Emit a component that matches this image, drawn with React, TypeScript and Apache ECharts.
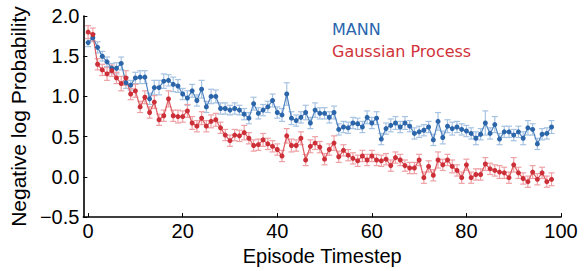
import React, { useEffect, useRef } from "react";
import * as echarts from "echarts";

const mannValues = [
  1.67, 1.73, 1.61, 1.5, 1.43, 1.35, 1.35, 1.41, 1.17, 1.14,
  1.23, 1.24, 1.24, 0.97, 1.11, 1.11, 1.19, 1.2, 1.15, 1.13,
  1.03, 0.98, 1.07, 0.95, 1.09, 0.87, 1.0, 1.0, 0.85, 0.85,
  0.83, 0.85, 0.83, 0.78, 0.73, 0.91, 0.79, 0.83, 0.87, 0.95,
  0.8, 0.77, 1.03, 0.73, 0.7, 0.74, 0.8, 0.67, 0.83, 0.79,
  0.79, 0.74, 0.8, 0.59, 0.62, 0.61, 0.67, 0.66, 0.62, 0.74,
  0.67, 0.73, 0.47, 0.6, 0.64, 0.67, 0.62, 0.67, 0.63, 0.54,
  0.56, 0.58, 0.62, 0.46, 0.69, 0.49, 0.63, 0.6, 0.62, 0.59,
  0.57, 0.54, 0.48, 0.53, 0.67, 0.54, 0.65, 0.47, 0.56, 0.56,
  0.52, 0.56, 0.48, 0.61, 0.59, 0.41, 0.53, 0.54, 0.62,
];

const mannErrors = [
  0.05, 0.05, 0.07, 0.06, 0.06, 0.06, 0.07, 0.08, 0.07, 0.06,
  0.07, 0.08, 0.08, 0.07, 0.09, 0.09, 0.09, 0.07, 0.09, 0.08,
  0.07, 0.09, 0.08, 0.07, 0.11, 0.07, 0.09, 0.08, 0.07, 0.07,
  0.06, 0.07, 0.06, 0.07, 0.07, 0.08, 0.07, 0.07, 0.07, 0.08,
  0.07, 0.08, 0.14, 0.08, 0.07, 0.07, 0.09, 0.07, 0.09, 0.07,
  0.07, 0.07, 0.08, 0.07, 0.07, 0.07, 0.07, 0.07, 0.07, 0.08,
  0.07, 0.08, 0.07, 0.07, 0.08, 0.08, 0.07, 0.08, 0.07, 0.07,
  0.07, 0.07, 0.07, 0.07, 0.11, 0.08, 0.08, 0.08, 0.07, 0.07,
  0.07, 0.07, 0.08, 0.07, 0.15, 0.07, 0.1, 0.07, 0.07, 0.07,
  0.07, 0.07, 0.08, 0.09, 0.07, 0.07, 0.07, 0.07, 0.08,
];

const gpValues = [
  1.8, 1.77, 1.4, 1.33, 1.28, 1.32, 1.23, 1.16, 1.23, 1.03,
  1.07, 0.87, 0.99, 0.8, 0.93, 0.71, 0.76, 0.97, 0.76, 0.75,
  0.75, 0.82, 0.67, 0.63, 0.73, 0.63, 0.69, 0.71, 0.61, 0.52,
  0.45, 0.52, 0.51, 0.55, 0.48, 0.39, 0.4, 0.46, 0.41, 0.38,
  0.34, 0.26, 0.51, 0.39, 0.39, 0.48, 0.21, 0.38, 0.42, 0.37,
  0.22, 0.34, 0.42, 0.25, 0.33, 0.27, 0.23, 0.2, 0.26, 0.21,
  0.26, 0.21, 0.2, 0.22, 0.14, 0.24, 0.21, 0.14, 0.11, 0.11,
  0.21, -0.01, 0.13, 0.02, 0.21, 0.15, 0.21, 0.13, 0.08, -0.01,
  0.15, -0.01, 0.03, 0.03, 0.16, 0.1, 0.08, 0.06, 0.05, -0.01,
  0.15, 0.05, -0.02, -0.06, 0.06, -0.03, 0.05, -0.06, -0.03,
];

const gpErrors = [
  0.08, 0.08, 0.07, 0.07, 0.08, 0.07, 0.07, 0.09, 0.09, 0.07,
  0.08, 0.07, 0.08, 0.07, 0.08, 0.07, 0.07, 0.1, 0.07, 0.08,
  0.07, 0.08, 0.08, 0.07, 0.08, 0.07, 0.08, 0.08, 0.07, 0.07,
  0.07, 0.07, 0.07, 0.09, 0.07, 0.07, 0.07, 0.08, 0.07, 0.07,
  0.07, 0.07, 0.09, 0.08, 0.07, 0.08, 0.07, 0.08, 0.08, 0.07,
  0.07, 0.07, 0.09, 0.07, 0.07, 0.07, 0.07, 0.07, 0.07, 0.07,
  0.07, 0.07, 0.07, 0.07, 0.07, 0.07, 0.07, 0.07, 0.07, 0.07,
  0.07, 0.07, 0.07, 0.07, 0.1, 0.07, 0.07, 0.08, 0.07, 0.07,
  0.07, 0.07, 0.07, 0.07, 0.08, 0.07, 0.07, 0.08, 0.07, 0.07,
  0.09, 0.07, 0.07, 0.07, 0.08, 0.07, 0.07, 0.07, 0.08,
];

const xTickLabels = [0, 20, 40, 60, 80, 100];
const seriesNames = ["MANN", "Gaussian Process"];

const BLUE_MARK = "#2c66aa";
const BLUE_LINE = "#4f84c0";
const BLUE_ERR = "#a7c3e2";
const RED_MARK = "#cc2f37";
const RED_LINE = "#dc5a60";
const RED_ERR = "#eea1a5";

const AXIS_FONT = "'Liberation Sans', Arial, sans-serif";

function errorBarRenderer(color: string) {
  return (_params: any, api: any) => {
    const x = api.value(0);
    const lo = api.coord([x, api.value(1)]);
    const hi = api.coord([x, api.value(2)]);
    const w = 3;
    const style = { stroke: color, lineWidth: 1.2 };
    return {
      type: "group",
      children: [
        { type: "line", shape: { x1: lo[0], y1: lo[1], x2: hi[0], y2: hi[1] }, style },
        { type: "line", shape: { x1: lo[0] - w, y1: lo[1], x2: lo[0] + w, y2: lo[1] }, style },
        { type: "line", shape: { x1: hi[0] - w, y1: hi[1], x2: hi[0] + w, y2: hi[1] }, style },
      ],
    };
  };
}

export default function App() {
  const ref = useRef<HTMLDivElement>(null);

  useEffect(() => {
    if (!ref.current) return;
    const chart = echarts.init(ref.current, null, { renderer: "svg" });
    const episodes = mannValues.map((_, i) => i);
    const mannLine = episodes.map((e, i) => [e, mannValues[i]]);
    const gpLine = episodes.map((e, i) => [e, gpValues[i]]);
    const mannErr = episodes.map((e, i) => [e, mannValues[i] - mannErrors[i], mannValues[i] + mannErrors[i]]);
    const gpErr = episodes.map((e, i) => [e, gpValues[i] - gpErrors[i], gpValues[i] + gpErrors[i]]);

    chart.setOption({
      animation: false,
      backgroundColor: "#ffffff",
      grid: { left: 79, right: 23, top: 16, bottom: 47, containLabel: false },
      legend: {
        data: [
          { name: seriesNames[0], textStyle: { color: "#2a66ae" } },
          { name: seriesNames[1], textStyle: { color: "#d2323a" } },
        ],
        orient: "vertical",
        left: 322,
        top: 16,
        icon: "none",
        itemWidth: 0,
        itemHeight: 16,
        itemGap: 6.5,
        selectedMode: false,
        textStyle: { fontFamily: "'DejaVu Sans', sans-serif", fontSize: 16 },
      },
      xAxis: {
        type: "value",
        min: -1,
        max: 100,
        name: "Episode Timestep",
        nameLocation: "middle",
        nameGap: 25,
        nameTextStyle: { fontFamily: AXIS_FONT, fontSize: 20, color: "#000" },
        axisLine: { show: true, onZero: false, lineStyle: { color: "#000", width: 1.6 } },
        axisTick: { show: true, inside: true, length: 4, customValues: xTickLabels, lineStyle: { color: "#000" } },
        axisLabel: {
          customValues: xTickLabels,
          margin: 4,
          fontFamily: AXIS_FONT,
          fontSize: 20,
          color: "#000",
        },
        splitLine: { show: false },
      },
      yAxis: {
        type: "value",
        min: -0.5,
        max: 2.0,
        interval: 0.5,
        name: "Negative log Probability",
        nameLocation: "middle",
        nameGap: 45,
        nameTextStyle: { fontFamily: AXIS_FONT, fontSize: 21, color: "#000" },
        axisLine: { show: true, onZero: false, lineStyle: { color: "#000", width: 1.6 } },
        axisTick: { show: true, inside: true, length: 4, lineStyle: { color: "#000" } },
        axisLabel: {
          margin: 4,
          fontFamily: AXIS_FONT,
          fontSize: 20,
          color: "#000",
          formatter: (v: number) => (v < 0 ? "\u2212" : "") + Math.abs(v).toFixed(1),
        },
        splitLine: { show: false },
      },
      series: [
        {
          name: "MANN error",
          type: "custom",
          renderItem: errorBarRenderer(BLUE_ERR),
          encode: { x: 0, y: [1, 2] },
          data: mannErr,
          z: 1,
          silent: true,
        },
        {
          name: "Gaussian Process error",
          type: "custom",
          renderItem: errorBarRenderer(RED_ERR),
          encode: { x: 0, y: [1, 2] },
          data: gpErr,
          z: 1,
          silent: true,
        },
        {
          name: seriesNames[0],
          type: "line",
          data: mannLine,
          symbol: "circle",
          symbolSize: 5,
          showSymbol: true,
          itemStyle: { color: BLUE_MARK },
          lineStyle: { color: BLUE_LINE, width: 1.2 },
          z: 3,
        },
        {
          name: seriesNames[1],
          type: "line",
          data: gpLine,
          symbol: "circle",
          symbolSize: 5,
          showSymbol: true,
          itemStyle: { color: RED_MARK },
          lineStyle: { color: RED_LINE, width: 1.2 },
          z: 3,
        },
      ],
    });

    return () => chart.dispose();
  }, []);

  return (
    <div
      ref={ref}
      style={{ position: "fixed", left: 0, top: 0, width: 584, height: 271 }}
    />
  );
}
